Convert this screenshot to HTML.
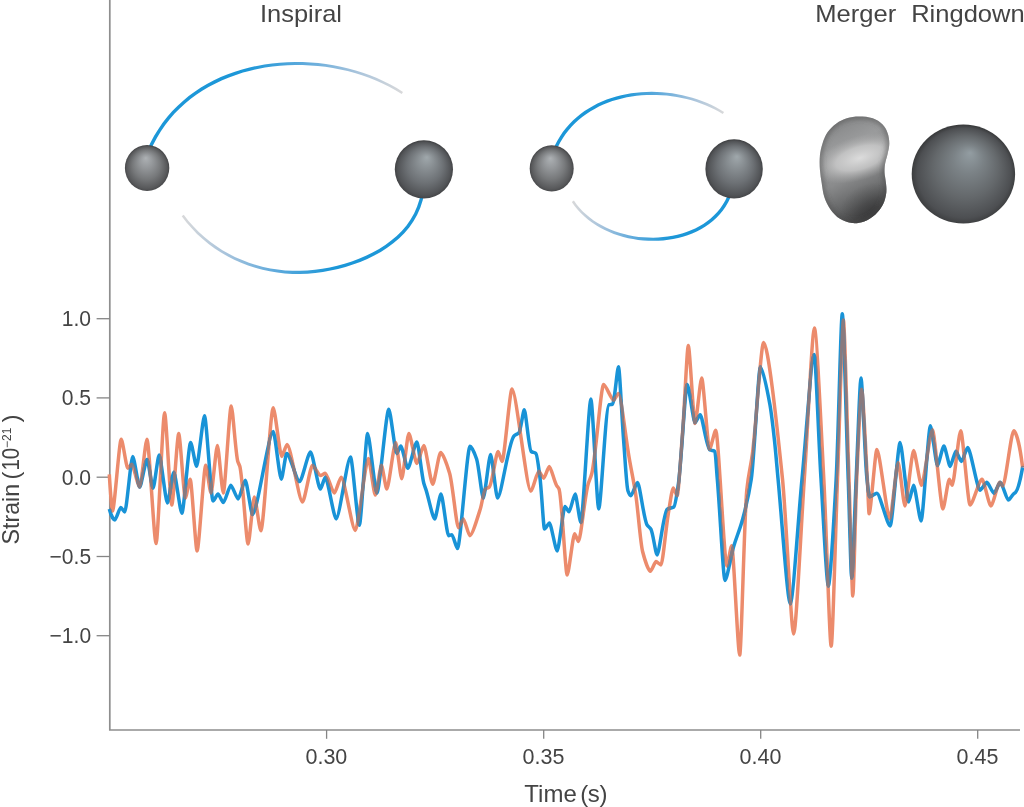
<!DOCTYPE html>
<html lang="en">
<head>
<meta charset="utf-8">
<title>Gravitational-wave strain: inspiral, merger and ringdown</title>
<style>
html,body{margin:0;padding:0;background:#fff;}
body{width:1024px;height:807px;overflow:hidden;}
svg{display:block;}
text{font-family:"Liberation Sans",sans-serif;fill:#444444;}
</style>
</head>
<body>
<svg width="1024" height="807" viewBox="0 0 1024 807">
<defs>
<radialGradient id="gs1" cx="0.5" cy="0.52" r="0.52" fx="0.47" fy="0.28"><stop offset="0" stop-color="#adb1b4"/><stop offset="0.28" stop-color="#95989b"/><stop offset="0.6" stop-color="#77797b"/><stop offset="0.87" stop-color="#58595b"/><stop offset="1" stop-color="#3f4042"/></radialGradient>
<radialGradient id="gs2" cx="0.5" cy="0.52" r="0.52" fx="0.55" fy="0.29"><stop offset="0" stop-color="#a0a8ac"/><stop offset="0.28" stop-color="#888e92"/><stop offset="0.6" stop-color="#6d7175"/><stop offset="0.87" stop-color="#525457"/><stop offset="1" stop-color="#3b3c3e"/></radialGradient>
<radialGradient id="gs3" cx="0.5" cy="0.52" r="0.52" fx="0.565" fy="0.285"><stop offset="0" stop-color="#939da2"/><stop offset="0.28" stop-color="#7b8286"/><stop offset="0.6" stop-color="#64686b"/><stop offset="0.87" stop-color="#4d4f52"/><stop offset="1" stop-color="#353637"/></radialGradient>
<linearGradient id="gt1" gradientUnits="userSpaceOnUse" x1="150" y1="0" x2="403" y2="0"><stop offset="0" stop-color="#1c97d8"/><stop offset="0.38" stop-color="#1c97d8"/><stop offset="0.62" stop-color="#62abdc"/><stop offset="0.82" stop-color="#a9c4dc"/><stop offset="1" stop-color="#d9d9da"/></linearGradient>
<linearGradient id="gt2" gradientUnits="userSpaceOnUse" x1="421" y1="0" x2="182" y2="0"><stop offset="0" stop-color="#1c97d8"/><stop offset="0.38" stop-color="#1c97d8"/><stop offset="0.62" stop-color="#62abdc"/><stop offset="0.82" stop-color="#a9c4dc"/><stop offset="1" stop-color="#d9d9da"/></linearGradient>
<linearGradient id="gt3" gradientUnits="userSpaceOnUse" x1="556" y1="0" x2="724" y2="0"><stop offset="0" stop-color="#1c97d8"/><stop offset="0.38" stop-color="#1c97d8"/><stop offset="0.62" stop-color="#62abdc"/><stop offset="0.82" stop-color="#a9c4dc"/><stop offset="1" stop-color="#d9d9da"/></linearGradient>
<linearGradient id="gt4" gradientUnits="userSpaceOnUse" x1="729" y1="0" x2="572" y2="0"><stop offset="0" stop-color="#1c97d8"/><stop offset="0.38" stop-color="#1c97d8"/><stop offset="0.62" stop-color="#62abdc"/><stop offset="0.82" stop-color="#a9c4dc"/><stop offset="1" stop-color="#d9d9da"/></linearGradient>
<linearGradient id="gblob" x1="0.35" y1="0" x2="0.65" y2="1"><stop offset="0" stop-color="#858687"/><stop offset="0.25" stop-color="#9a9b9c"/><stop offset="0.55" stop-color="#8a8b8c"/><stop offset="0.8" stop-color="#626364"/><stop offset="1" stop-color="#3c3c3d"/></linearGradient>
<radialGradient id="gblobhi" cx="0.5" cy="0.5" r="0.5"><stop offset="0" stop-color="#e0e0e0" stop-opacity="0.95"/><stop offset="0.5" stop-color="#d4d4d4" stop-opacity="0.7"/><stop offset="1" stop-color="#b0b0b0" stop-opacity="0"/></radialGradient>
<radialGradient id="gblobdk" cx="0.5" cy="0.5" r="0.5"><stop offset="0" stop-color="#2c2c2d" stop-opacity="0.7"/><stop offset="0.5" stop-color="#333334" stop-opacity="0.4"/><stop offset="1" stop-color="#444" stop-opacity="0"/></radialGradient>
<clipPath id="cblob"><path d="M859 116.5C863.3 116.5 868.9 116.9 872.8 118.2C876.7 119.5 879.9 121.8 882.4 124.3C884.9 126.8 886.5 129.7 887.6 132.9C888.8 136.1 889.3 139.9 889.3 143.4C889.3 146.9 888.3 150.3 887.6 153.8C886.9 157.3 885.5 161 885 164.2C884.5 167.4 884.5 169.9 884.6 172.8C884.7 175.7 885.5 178.3 885.8 181.5C886.1 184.7 886.8 188.2 886.4 191.9C886 195.7 885 200.2 883.2 204C881.4 207.8 878.6 211.5 875.4 214.4C872.2 217.3 868.1 220 864.2 221.4C860.3 222.8 856 223.5 852 223.1C848 222.7 843.5 221.1 839.9 218.8C836.3 216.5 832.9 212.8 830.3 209.2C827.7 205.6 825.7 201.4 824.3 197.1C822.9 192.8 822.4 187.8 821.7 183.2C821 178.6 820.2 174 819.9 169.4C819.6 164.8 819.5 159.8 819.9 155.5C820.3 151.2 821.2 147.3 822.5 143.4C823.8 139.5 825.4 135.4 827.7 132.1C830 128.8 833.2 125.7 836.4 123.4C839.6 121.1 843 119.4 846.8 118.2C850.6 117 854.7 116.5 859 116.5Z"/></clipPath>
<mask id="mblue" maskUnits="userSpaceOnUse" x="100" y="290" width="924" height="400"><path d="M109.3 509C111.2 516.3 113.7 519.9 114.9 519.9C116.2 519.9 119.5 507.4 120.8 507.4C121.7 507.4 123.9 511.9 124.8 511.9C126.5 511.9 131 456.4 132.7 456.4C134.2 456.4 138.2 487.1 139.7 487.1C141.3 487.1 145.4 459.4 147 459.4C148.3 459.4 151.8 488.1 153.1 488.1C154.4 488.1 157.8 455 159.1 455C160.9 455 165.6 503 167.4 503C168.8 503 172.4 472.3 173.8 472.3C175.6 472.3 180.1 513.3 181.9 513.3C183.8 513.3 188.7 442.5 190.6 442.5C191.9 442.5 195.3 466.3 196.6 466.3C198.3 466.3 202.8 415.8 204.5 415.8C206.4 415.8 211.1 501 213 501C214.1 501 216.9 494.1 218 494.1C219.2 494.1 222.1 502.6 223.3 502.6C225 502.6 229.2 485.2 230.8 485.2C232.4 485.2 236.6 499 238.2 499C239.8 499 243.7 480.2 245.3 480.2C246.9 480.2 250.9 514.4 252.5 514.4C257.1 514.4 268.6 431.6 273.2 431.6C275 431.6 279.5 479.2 281.3 479.2C282.5 479.2 285.5 453.4 286.7 453.4C289.5 453.4 296.8 481.6 299.6 481.6C302 481.6 308.1 451.9 310.5 451.9C312.7 451.9 318.2 489.1 320.4 489.1C321.5 489.1 324.2 477.2 325.3 477.2C327.7 477.2 333.8 518.9 336.2 518.9C339.3 518.9 347.4 457 350.5 457C352.5 457 357.4 525.2 359.4 525.2C361.2 525.2 365.8 433.6 367.6 433.6C369.6 433.6 374.9 493.1 376.9 493.1C379.5 493.1 386.2 409.2 388.8 409.2C390.5 409.2 395 453.4 396.7 453.4C397.6 453.4 399.9 446 400.8 446C402.3 446 406.3 468.3 407.8 468.3C409.8 468.3 414.9 441.9 416.9 441.9C418.4 441.9 421.5 474.6 423.8 483.2C424.5 485.7 425.1 487 425.8 489.1C428.8 498.3 432.7 518.9 434.7 518.9C436.1 518.9 439.6 494.1 441 494.1C442.7 494.1 446.9 535.7 448.6 535.7C449.3 535.7 451.2 534.7 451.9 534.7C453.1 534.7 456.3 548.6 457.5 548.6C460.2 548.6 467.2 446.3 470 446.3C471.5 446.3 474.4 452.6 476.6 459C478.8 465.5 481.8 498 483.3 498C484.9 498 489 454.4 490.6 454.4C492.1 454.4 496 498 497.5 498C501.1 498 508.5 441.6 514 436C515.7 434.3 517.3 434.5 519 432.6C520.8 430.5 523.1 409.8 524.3 409.8C525.8 409.8 528.9 449.8 531.2 451.5C532.7 452.6 534.3 452.2 535.8 453.4C537.2 454.5 538.6 467.2 540 478C541.5 489.5 543.5 529 544.5 529C545.6 529 548.3 523 549.4 523C551.1 523 555.5 551 557.2 551C558.9 551 563.3 506.5 565 506.5C565.9 506.5 568.1 511.8 569 511.8C570.4 511.8 573.8 494 575.2 494C576.4 494 579.6 522.5 580.8 522.5C583 522.5 588.7 399.1 590.9 399.1C592.6 399.1 597 509 598.7 509C601 509 605.6 405.5 609 404.7C610.2 404.4 611.3 404.5 612.5 404.2C614.5 403.7 617.2 366.8 618.5 366.8C619.6 366.8 621.9 418.3 623.6 440C625.1 458.8 626.5 486.8 628 491C628.9 493.6 630.2 495.8 630.8 495.8C632.3 495.8 636 482.4 637.5 482.4C639.6 482.4 643.8 519.5 647 524.8C648.3 527 649.6 527 650.9 529.2C653 532.7 655.7 554.9 657.1 554.9C659.3 554.9 663.8 511.1 667.1 509.2C669.3 507.9 671.6 508.5 673.8 507C675.3 506 676.8 494.5 678.3 484.6C681.3 465 685.2 384.6 687.2 384.6C688.9 384.6 693.3 422.5 695 422.5C696.1 422.5 699.1 414.7 700.2 414.7C702.3 414.7 706.6 448.7 709.8 450C711.4 450.7 713.1 450.3 714.7 451.2C715.6 451.7 716.4 468.9 717.3 479C719.9 508.8 723.3 580.4 725 580.4C726.9 580.4 730.7 556.7 733.5 547C736.5 536.8 739.4 530.9 742.4 520C745.4 509.1 748.3 498.9 751.3 479C754.3 458.7 758.4 366.9 760.4 366.9C762.5 366.9 766.7 387.2 769.9 404.5C771.5 413.1 773 427.1 774.6 441.5C775.7 451.9 776.9 466.4 778 478.4C782.1 521.8 787.6 603.8 790.3 603.8C792.9 603.8 798.1 519.7 802 479C806.1 436.6 811.5 354.6 814.2 354.6C815.7 354.6 818.7 442.1 821 479C823.4 518.7 826.7 586 828.3 586C830 586 833.5 527.5 836.1 480C838.2 442.3 840.9 313.8 842.3 313.8C843.6 313.8 846.2 423.6 848.2 479C849.4 511.9 850.9 578.1 851.7 578.1C852.7 578.1 854.6 511.6 856.1 480C857.7 444.8 859.9 378 861 378C862.3 378 864.9 459.7 866.9 478.4C867.8 486.6 868.9 496.8 869.5 496.8C871.1 496.8 875.3 493.2 876.9 493.2C879.8 493.2 887.3 525.9 890.2 525.9C892.4 525.9 897.9 442.6 900.1 442.6C902 442.6 906.7 502.1 908.6 502.1C909.7 502.1 912.5 485.3 913.6 485.3C915.2 485.3 919.5 520.9 921.1 520.9C923.1 520.9 928.4 425.8 930.4 425.8C931.9 425.8 935.9 465.4 937.4 465.4C938.8 465.4 942.5 446 943.9 446C945.3 446 948.8 466.4 950.2 466.4C951.4 466.4 954.6 451.2 955.8 451.2C957.1 451.2 960.2 461.5 961.5 461.5C962.9 461.5 966.3 447.6 967.7 447.6C970.4 447.6 977.3 490.2 980 490.2C981.5 490.2 985.4 482.3 986.9 482.3C988.4 482.3 992.4 493.2 993.9 493.2C995.3 493.2 999 482.3 1000.4 482.3C1002.1 482.3 1006.6 500.1 1008.3 500.1C1009.4 500.1 1011.8 495.6 1013.5 494C1014.2 493.3 1015 493.1 1015.7 492.2C1018 489.4 1020.3 480.5 1022.6 467.4" fill="none" stroke="#fff" stroke-width="3.5" stroke-linejoin="round" stroke-linecap="round"/></mask>
<filter id="fblur" x="-20%" y="-20%" width="140%" height="140%"><feGaussianBlur stdDeviation="2.5"/></filter>
</defs>
<rect width="1024" height="807" fill="#fff"/>
<g stroke="#8e8e8e" stroke-width="1.7" fill="none">
<path d="M109.8 0V730H1020"/>
</g>
<g stroke="#858585" stroke-width="1.3" fill="none">
<path d="M96.6 318.7H109.8"/>
<path d="M96.6 397.9H109.8"/>
<path d="M96.6 477.2H109.8"/>
<path d="M96.6 556.5H109.8"/>
<path d="M96.6 635.7H109.8"/>
<path d="M326.6 730V738.8"/>
<path d="M543.7 730V738.8"/>
<path d="M760.7 730V738.8"/>
<path d="M977.7 730V738.8"/>
</g>
<g font-size="21.5">
<text x="61.8" y="326.2" textLength="29.3" lengthAdjust="spacingAndGlyphs">1.0</text>
<text x="61.8" y="405.4" textLength="29.3" lengthAdjust="spacingAndGlyphs">0.5</text>
<text x="61.8" y="484.7" textLength="29.3" lengthAdjust="spacingAndGlyphs">0.0</text>
<text x="49.6" y="564" textLength="41.5" lengthAdjust="spacingAndGlyphs">−0.5</text>
<text x="49.6" y="643.2" textLength="41.5" lengthAdjust="spacingAndGlyphs">−1.0</text>
<text x="305.5" y="764" textLength="41.8" lengthAdjust="spacingAndGlyphs">0.30</text>
<text x="522.6" y="764" textLength="41.8" lengthAdjust="spacingAndGlyphs">0.35</text>
<text x="739.6" y="764" textLength="41.8" lengthAdjust="spacingAndGlyphs">0.40</text>
<text x="956.6" y="764" textLength="41.8" lengthAdjust="spacingAndGlyphs">0.45</text>
</g>
<text x="524.3" y="802.2" font-size="24">Time <tspan dx="-3.2" letter-spacing="-0.4">(s)</tspan></text>
<g transform="translate(19.2 544) rotate(-90)" font-size="24"><text x="-0.4" y="0" textLength="60.5" lengthAdjust="spacingAndGlyphs">Strain</text><text x="64.6" y="0">(</text><text x="73.4" y="0" textLength="22.8" lengthAdjust="spacingAndGlyphs">10</text><text x="96" y="-8" font-size="12">−21</text><text x="121.6" y="0">)</text></g>
<text x="260" y="22" font-size="24" textLength="82" lengthAdjust="spacingAndGlyphs">Inspiral</text>
<text x="815.3" y="22" font-size="24" textLength="81" lengthAdjust="spacingAndGlyphs">Merger</text>
<text x="911.2" y="22" font-size="24" textLength="113.5" lengthAdjust="spacingAndGlyphs">Ringdown</text>
<g stroke="none">
<path d="M150.1 151.8L153.4 144.6L157 137.8L160.9 131.3L165.2 125.1L169.7 119.2L174.6 113.6L179.7 108.4L185.1 103.4L190.8 98.8L196.6 94.5L202.7 90.5L209 86.8L215.5 83.4L222.2 80.2L229 77.4L235.9 74.9L243 72.6L250.3 70.7L257.6 69L265 67.6L272.4 66.5L280 65.7L287.5 65.2L295.1 65L302.7 65L310.3 65.4L317.9 66L325.4 66.8L332.9 68L340.3 69.4L347.7 71.1L354.9 73.1L362 75.3L369.1 77.8L375.9 80.5L382.6 83.5L389.2 86.8L395.5 90.3L401.7 94L403 91.9L396.8 88.1L390.4 84.5L383.7 81.2L376.9 78.1L370 75.3L362.9 72.7L355.7 70.4L348.3 68.4L340.9 66.7L333.4 65.2L325.8 64L318.2 63.1L310.5 62.4L302.8 62.1L295.1 62L287.4 62.2L279.7 62.7L272 63.4L264.5 64.5L256.9 65.9L249.5 67.5L242.1 69.5L234.9 71.7L227.8 74.3L220.8 77.1L214 80.3L207.4 83.8L200.9 87.6L194.7 91.7L188.7 96.1L182.9 100.9L177.4 105.9L172.1 111.3L167.1 117L162.4 123.1L158.1 129.4L154 136.1L150.3 143.1L147 150.5Z" fill="url(#gt1)"/>
<path d="M421.1 191.5L419.5 199.2L417.1 206.5L414.2 213.2L410.6 219.5L406.5 225.4L401.8 230.9L396.7 235.9L391.2 240.6L385.3 245L379.1 248.9L372.6 252.6L365.9 255.8L358.9 258.8L351.8 261.4L344.6 263.7L337.2 265.7L329.8 267.4L322.4 268.8L314.9 269.8L307.4 270.5L300 270.8L292.5 270.8L285.1 270.4L277.7 269.6L270.4 268.4L263.2 266.9L256.1 265L249 262.7L242.2 260.1L235.4 257.2L228.8 253.8L222.4 250.2L216.2 246.1L210.2 241.8L204.4 237L198.8 232L193.5 226.6L188.5 220.9L183.7 214.8L181.7 216.3L186.5 222.5L191.7 228.3L197 233.9L202.7 239.1L208.6 243.9L214.7 248.4L221 252.5L227.5 256.3L234.2 259.7L241.1 262.8L248.1 265.5L255.2 267.8L262.5 269.8L269.8 271.3L277.3 272.6L284.8 273.4L292.4 273.9L300 274L307.6 273.7L315.3 273L322.9 272L330.5 270.6L338 269L345.5 267L352.9 264.6L360.2 262L367.3 258.9L374.2 255.6L380.8 251.9L387.2 247.8L393.3 243.3L399 238.4L404.3 233.2L409.2 227.5L413.5 221.3L417.2 214.7L420.3 207.7L422.8 200.1L424.4 192.1Z" fill="url(#gt2)"/>
<path d="M555.6 152L557.8 147.2L560.2 142.6L562.8 138.3L565.6 134.1L568.6 130.2L571.8 126.5L575.2 123.1L578.8 119.8L582.5 116.8L586.4 113.9L590.5 111.3L594.6 108.9L598.9 106.6L603.3 104.6L607.8 102.7L612.4 101.1L617.1 99.7L621.9 98.4L626.8 97.3L631.7 96.5L636.6 95.8L641.6 95.3L646.6 95L651.7 94.9L656.7 94.9L661.8 95.2L666.8 95.6L671.8 96.2L676.8 97L681.8 97.9L686.7 99.1L691.5 100.3L696.2 101.8L700.9 103.4L705.5 105.2L710 107.2L714.4 109.3L718.6 111.6L722.7 114L724.1 111.9L719.9 109.4L715.5 107L711.1 104.8L706.5 102.8L701.9 100.9L697.1 99.2L692.3 97.7L687.3 96.4L682.4 95.2L677.3 94.2L672.2 93.3L667.1 92.7L662 92.2L656.8 91.9L651.7 91.8L646.5 91.9L641.4 92.2L636.3 92.7L631.2 93.3L626.2 94.2L621.2 95.2L616.3 96.5L611.4 98L606.7 99.6L602 101.5L597.4 103.6L593 105.9L588.7 108.4L584.5 111.1L580.5 114.1L576.6 117.2L572.9 120.6L569.3 124.2L566 128.1L562.8 132.1L559.9 136.4L557.2 140.9L554.7 145.7L552.5 150.7Z" fill="url(#gt3)"/>
<path d="M729.3 191.5L727.4 196.1L725.3 200.5L722.9 204.6L720.2 208.4L717.3 212L714.1 215.3L710.7 218.4L707.1 221.2L703.3 223.9L699.3 226.2L695.2 228.4L690.9 230.3L686.5 232L682 233.4L677.3 234.7L672.6 235.7L667.8 236.5L663 237.1L658.1 237.5L653.2 237.7L648.3 237.6L643.4 237.3L638.5 236.9L633.7 236.2L628.8 235.2L624.1 234.1L619.4 232.8L614.8 231.2L610.3 229.5L605.9 227.5L601.7 225.3L597.6 223L593.6 220.4L589.8 217.6L586.2 214.6L582.8 211.4L579.6 208L576.6 204.4L573.9 200.6L571.8 201.9L574.6 205.9L577.7 209.7L581 213.2L584.5 216.5L588.2 219.7L592 222.6L596.1 225.3L600.3 227.8L604.7 230L609.2 232.1L613.8 233.9L618.5 235.6L623.3 237L628.2 238.2L633.1 239.1L638.1 239.9L643.2 240.4L648.2 240.8L653.3 240.8L658.3 240.7L663.3 240.4L668.3 239.8L673.2 239L678.1 237.9L682.9 236.7L687.6 235.2L692.2 233.4L696.7 231.4L701 229.2L705.1 226.7L709.1 224L712.9 221L716.5 217.7L719.8 214.2L722.9 210.5L725.7 206.4L728.3 202.1L730.5 197.5L732.5 192.7Z" fill="url(#gt4)"/>
</g>
<ellipse cx="147.1" cy="168" rx="22.2" ry="23" fill="url(#gs1)"/>
<circle cx="423.9" cy="169.3" r="29.1" fill="url(#gs2)"/>
<ellipse cx="551.7" cy="168.4" rx="22" ry="23.2" fill="url(#gs1)"/>
<ellipse cx="734.1" cy="168.9" rx="28.7" ry="29.7" fill="url(#gs2)"/>
<ellipse cx="963.4" cy="174" rx="51.7" ry="49.6" fill="url(#gs3)"/>
<path d="M859 116.5C863.3 116.5 868.9 116.9 872.8 118.2C876.7 119.5 879.9 121.8 882.4 124.3C884.9 126.8 886.5 129.7 887.6 132.9C888.8 136.1 889.3 139.9 889.3 143.4C889.3 146.9 888.3 150.3 887.6 153.8C886.9 157.3 885.5 161 885 164.2C884.5 167.4 884.5 169.9 884.6 172.8C884.7 175.7 885.5 178.3 885.8 181.5C886.1 184.7 886.8 188.2 886.4 191.9C886 195.7 885 200.2 883.2 204C881.4 207.8 878.6 211.5 875.4 214.4C872.2 217.3 868.1 220 864.2 221.4C860.3 222.8 856 223.5 852 223.1C848 222.7 843.5 221.1 839.9 218.8C836.3 216.5 832.9 212.8 830.3 209.2C827.7 205.6 825.7 201.4 824.3 197.1C822.9 192.8 822.4 187.8 821.7 183.2C821 178.6 820.2 174 819.9 169.4C819.6 164.8 819.5 159.8 819.9 155.5C820.3 151.2 821.2 147.3 822.5 143.4C823.8 139.5 825.4 135.4 827.7 132.1C830 128.8 833.2 125.7 836.4 123.4C839.6 121.1 843 119.4 846.8 118.2C850.6 117 854.7 116.5 859 116.5Z" fill="url(#gblob)"/>
<g clip-path="url(#cblob)"><ellipse cx="879" cy="216" rx="40" ry="34" fill="url(#gblobdk)"/><ellipse cx="0" cy="0" rx="50" ry="22" fill="url(#gblobhi)" transform="translate(860 158) rotate(-17)"/><path d="M859 116.5C863.3 116.5 868.9 116.9 872.8 118.2C876.7 119.5 879.9 121.8 882.4 124.3C884.9 126.8 886.5 129.7 887.6 132.9C888.8 136.1 889.3 139.9 889.3 143.4C889.3 146.9 888.3 150.3 887.6 153.8C886.9 157.3 885.5 161 885 164.2C884.5 167.4 884.5 169.9 884.6 172.8C884.7 175.7 885.5 178.3 885.8 181.5C886.1 184.7 886.8 188.2 886.4 191.9C886 195.7 885 200.2 883.2 204C881.4 207.8 878.6 211.5 875.4 214.4C872.2 217.3 868.1 220 864.2 221.4C860.3 222.8 856 223.5 852 223.1C848 222.7 843.5 221.1 839.9 218.8C836.3 216.5 832.9 212.8 830.3 209.2C827.7 205.6 825.7 201.4 824.3 197.1C822.9 192.8 822.4 187.8 821.7 183.2C821 178.6 820.2 174 819.9 169.4C819.6 164.8 819.5 159.8 819.9 155.5C820.3 151.2 821.2 147.3 822.5 143.4C823.8 139.5 825.4 135.4 827.7 132.1C830 128.8 833.2 125.7 836.4 123.4C839.6 121.1 843 119.4 846.8 118.2C850.6 117 854.7 116.5 859 116.5Z" fill="none" stroke="#4a4a4b" stroke-opacity="0.55" stroke-width="5" filter="url(#fblur)"/></g>
<g fill="none" stroke-width="3.5" stroke-linejoin="round" stroke-linecap="butt">
<path d="M109.3 474.3C110.4 492.2 111.8 511 112.5 511C114.4 511 119.3 439.2 121.2 439.2C122.7 439.2 126.3 468.3 127.8 468.3C128.7 468.3 130.8 464.3 131.7 464.3C133.5 464.3 137.9 487.1 139.7 487.1C141.3 487.1 145.4 439.2 147 439.2C149 439.2 154.1 543.6 156.1 543.6C158 543.6 162.7 412.8 164.6 412.8C166.2 412.8 170.2 505 171.8 505C173.3 505 177.2 433.6 178.7 433.6C180.2 433.6 183.8 498 185.3 498C186.4 498 189.1 479.2 190.2 479.2C191.7 479.2 195.6 551 197.1 551C199 551 203.8 465.3 205.7 465.3C206.9 465.3 209.8 493.1 211 493.1C212.4 493.1 216 445.5 217.4 445.5C218.7 445.5 222 493.1 223.3 493.1C225 493.1 229.5 405.9 231.2 405.9C232.7 405.9 235.6 453.8 237.8 461.4C238.5 463.7 239.1 464 239.8 466.3C242.6 475.9 246.3 544 248.1 544C249.5 544 252.9 497.1 254.3 497.1C255.8 497.1 259.4 530.8 260.9 530.8C263.6 530.8 270.5 407.8 273.2 407.8C275.1 407.8 279.8 456.4 281.7 456.4C282.9 456.4 285.9 444.5 287.1 444.5C290.5 444.5 299.1 502 302.5 502C304.7 502 310.3 465.3 312.5 465.3C314.2 465.3 318.7 475.6 320.4 475.6C321.5 475.6 324.2 473.3 325.3 473.3C327.3 473.3 332.3 493.1 334.3 493.1C335.8 493.1 339.7 477.2 341.2 477.2C344.3 477.2 352.2 530.5 355.3 530.5C358.2 530.5 365.5 458.4 368.4 458.4C369.9 458.4 373.8 495.1 375.3 495.1C376.6 495.1 380.1 465.3 381.4 465.3C382.6 465.3 385.6 489.1 386.8 489.1C388.8 489.1 393.7 442.5 395.7 442.5C397 442.5 400.4 478.7 401.7 478.7C403.3 478.7 407.2 433.6 408.8 433.6C410.6 433.6 415.1 463.4 416.9 463.4C418.4 463.4 422.3 445.5 423.8 445.5C425.8 445.5 430.7 484.2 432.7 484.2C434.4 484.2 438.9 452.5 440.6 452.5C442.6 452.5 446.6 463.2 449.6 473.3C452.6 483.3 456.5 527.8 458.5 527.8C459.6 527.8 462.3 518.9 463.4 518.9C464.8 518.9 468.4 535.7 469.8 535.7C472.1 535.7 476.8 520.2 480.3 509C482 503.7 483.6 490.6 485.3 489.1C486.6 488 487.9 488.2 489.2 487.1C492.2 484.6 496.1 451.5 498.1 451.5C499 451.5 501.2 461.4 502.1 461.4C504.3 461.4 509.8 389 512 389C516.1 389 526.7 491.1 530.8 491.1C532.6 491.1 537 471.3 538.8 471.3C539.9 471.3 542.6 478.2 543.7 478.2C544.9 478.2 548.1 466.5 549.3 466.5C550.9 466.5 554.2 481.4 556.7 485.7C557.5 487 558.2 487.3 559 489C561.7 495 565.4 575 567.2 575C568.8 575 573 533.7 574.6 533.7C575.4 533.7 577.6 541.5 578.4 541.5C580.5 541.5 584.8 496.5 588 484.6C589.3 479.9 590.5 478.5 591.8 473.5C595.7 458.1 601 384.6 603.6 384.6C605.8 384.6 611.4 400.2 613.6 400.2C614.7 400.2 617.4 393.5 618.5 393.5C620.9 393.5 625.6 437.3 629.2 458C631.4 471 633.7 480.8 635.9 495.8C638.1 510.8 640.4 542.7 642.6 551.5C645.2 561.7 648.7 571.2 650.4 571.2C651.6 571.2 654.8 561.6 656 561.6C657.1 561.6 659.9 565 661 565C662.6 565 665.9 528.1 668.3 513.6C669.9 503.9 672.1 488 673.2 488C674.1 488 676.3 495.8 677.2 495.8C678.4 495.8 680.9 453.9 682.8 429C684.6 404.5 687.1 345.6 688.3 345.6C689.8 345.6 693.5 423.6 695 423.6C696.5 423.6 700.2 378 701.7 378C703.4 378 707.8 449.3 709.5 449.3C710.9 449.3 714.4 430.3 715.8 430.3C718.2 430.3 724.4 565.9 726.8 565.9C727.9 565.9 730.6 545.8 731.7 545.8C733.5 545.8 737.9 655.1 739.7 655.1C741.3 655.1 744.4 513.4 746.8 490C748.7 471.6 750.5 468.2 752.4 453.9C756.1 425.4 761.1 342.4 763.6 342.4C767.8 342.4 776.2 417.5 782.5 479C786.2 515.4 791.2 633.9 793.7 633.9C796 633.9 800.8 531.2 804.3 479C807.7 429.2 812.2 327.9 814.4 327.9C816.5 327.9 820.7 419.7 823.8 479C826.3 525.6 829.6 646.2 831.2 646.2C832.6 646.2 835.4 535.2 837.5 479C839.5 426.4 842.1 320 843.4 320C844.6 320 847.1 423.7 849 479C850.3 516.5 852 596 852.8 596C853.7 596 855.4 508.5 856.7 479C858.4 441.2 860.6 389.2 861.7 389.2C862.9 389.2 865.4 444.9 867.3 478.4C867.9 489.2 868.7 513.8 869.1 513.8C870.8 513.8 875.2 449.6 876.9 449.6C879.7 449.6 887 519 889.8 519C891.6 519 896.3 462.5 898.1 462.5C899.6 462.5 903.5 506 905 506C906.9 506 911.7 450.6 913.6 450.6C915.3 450.6 919.8 485.3 921.5 485.3C923.9 485.3 930 429.7 932.4 429.7C934.7 429.7 940.6 509 942.9 509C944.3 509 947.9 479.3 949.3 479.3C949.9 479.3 951.6 485.3 952.2 485.3C954.1 485.3 958.8 430.7 960.7 430.7C962.7 430.7 968 505 970 505C972.6 505 979.4 479.3 982 479.3C984 479.3 988.9 506 990.9 506C992.9 506 997.8 482.3 999.8 482.3C1000.5 482.3 1002.1 486.2 1002.8 486.2C1005.2 486.2 1011.3 430.7 1013.7 430.7C1015.7 430.7 1019.6 442.9 1022.6 467.4" stroke="#ec8b6c"/>
<path d="M109.3 509C111.2 516.3 113.7 519.9 114.9 519.9C116.2 519.9 119.5 507.4 120.8 507.4C121.7 507.4 123.9 511.9 124.8 511.9C126.5 511.9 131 456.4 132.7 456.4C134.2 456.4 138.2 487.1 139.7 487.1C141.3 487.1 145.4 459.4 147 459.4C148.3 459.4 151.8 488.1 153.1 488.1C154.4 488.1 157.8 455 159.1 455C160.9 455 165.6 503 167.4 503C168.8 503 172.4 472.3 173.8 472.3C175.6 472.3 180.1 513.3 181.9 513.3C183.8 513.3 188.7 442.5 190.6 442.5C191.9 442.5 195.3 466.3 196.6 466.3C198.3 466.3 202.8 415.8 204.5 415.8C206.4 415.8 211.1 501 213 501C214.1 501 216.9 494.1 218 494.1C219.2 494.1 222.1 502.6 223.3 502.6C225 502.6 229.2 485.2 230.8 485.2C232.4 485.2 236.6 499 238.2 499C239.8 499 243.7 480.2 245.3 480.2C246.9 480.2 250.9 514.4 252.5 514.4C257.1 514.4 268.6 431.6 273.2 431.6C275 431.6 279.5 479.2 281.3 479.2C282.5 479.2 285.5 453.4 286.7 453.4C289.5 453.4 296.8 481.6 299.6 481.6C302 481.6 308.1 451.9 310.5 451.9C312.7 451.9 318.2 489.1 320.4 489.1C321.5 489.1 324.2 477.2 325.3 477.2C327.7 477.2 333.8 518.9 336.2 518.9C339.3 518.9 347.4 457 350.5 457C352.5 457 357.4 525.2 359.4 525.2C361.2 525.2 365.8 433.6 367.6 433.6C369.6 433.6 374.9 493.1 376.9 493.1C379.5 493.1 386.2 409.2 388.8 409.2C390.5 409.2 395 453.4 396.7 453.4C397.6 453.4 399.9 446 400.8 446C402.3 446 406.3 468.3 407.8 468.3C409.8 468.3 414.9 441.9 416.9 441.9C418.4 441.9 421.5 474.6 423.8 483.2C424.5 485.7 425.1 487 425.8 489.1C428.8 498.3 432.7 518.9 434.7 518.9C436.1 518.9 439.6 494.1 441 494.1C442.7 494.1 446.9 535.7 448.6 535.7C449.3 535.7 451.2 534.7 451.9 534.7C453.1 534.7 456.3 548.6 457.5 548.6C460.2 548.6 467.2 446.3 470 446.3C471.5 446.3 474.4 452.6 476.6 459C478.8 465.5 481.8 498 483.3 498C484.9 498 489 454.4 490.6 454.4C492.1 454.4 496 498 497.5 498C501.1 498 508.5 441.6 514 436C515.7 434.3 517.3 434.5 519 432.6C520.8 430.5 523.1 409.8 524.3 409.8C525.8 409.8 528.9 449.8 531.2 451.5C532.7 452.6 534.3 452.2 535.8 453.4C537.2 454.5 538.6 467.2 540 478C541.5 489.5 543.5 529 544.5 529C545.6 529 548.3 523 549.4 523C551.1 523 555.5 551 557.2 551C558.9 551 563.3 506.5 565 506.5C565.9 506.5 568.1 511.8 569 511.8C570.4 511.8 573.8 494 575.2 494C576.4 494 579.6 522.5 580.8 522.5C583 522.5 588.7 399.1 590.9 399.1C592.6 399.1 597 509 598.7 509C601 509 605.6 405.5 609 404.7C610.2 404.4 611.3 404.5 612.5 404.2C614.5 403.7 617.2 366.8 618.5 366.8C619.6 366.8 621.9 418.3 623.6 440C625.1 458.8 626.5 486.8 628 491C628.9 493.6 630.2 495.8 630.8 495.8C632.3 495.8 636 482.4 637.5 482.4C639.6 482.4 643.8 519.5 647 524.8C648.3 527 649.6 527 650.9 529.2C653 532.7 655.7 554.9 657.1 554.9C659.3 554.9 663.8 511.1 667.1 509.2C669.3 507.9 671.6 508.5 673.8 507C675.3 506 676.8 494.5 678.3 484.6C681.3 465 685.2 384.6 687.2 384.6C688.9 384.6 693.3 422.5 695 422.5C696.1 422.5 699.1 414.7 700.2 414.7C702.3 414.7 706.6 448.7 709.8 450C711.4 450.7 713.1 450.3 714.7 451.2C715.6 451.7 716.4 468.9 717.3 479C719.9 508.8 723.3 580.4 725 580.4C726.9 580.4 730.7 556.7 733.5 547C736.5 536.8 739.4 530.9 742.4 520C745.4 509.1 748.3 498.9 751.3 479C754.3 458.7 758.4 366.9 760.4 366.9C762.5 366.9 766.7 387.2 769.9 404.5C771.5 413.1 773 427.1 774.6 441.5C775.7 451.9 776.9 466.4 778 478.4C782.1 521.8 787.6 603.8 790.3 603.8C792.9 603.8 798.1 519.7 802 479C806.1 436.6 811.5 354.6 814.2 354.6C815.7 354.6 818.7 442.1 821 479C823.4 518.7 826.7 586 828.3 586C830 586 833.5 527.5 836.1 480C838.2 442.3 840.9 313.8 842.3 313.8C843.6 313.8 846.2 423.6 848.2 479C849.4 511.9 850.9 578.1 851.7 578.1C852.7 578.1 854.6 511.6 856.1 480C857.7 444.8 859.9 378 861 378C862.3 378 864.9 459.7 866.9 478.4C867.8 486.6 868.9 496.8 869.5 496.8C871.1 496.8 875.3 493.2 876.9 493.2C879.8 493.2 887.3 525.9 890.2 525.9C892.4 525.9 897.9 442.6 900.1 442.6C902 442.6 906.7 502.1 908.6 502.1C909.7 502.1 912.5 485.3 913.6 485.3C915.2 485.3 919.5 520.9 921.1 520.9C923.1 520.9 928.4 425.8 930.4 425.8C931.9 425.8 935.9 465.4 937.4 465.4C938.8 465.4 942.5 446 943.9 446C945.3 446 948.8 466.4 950.2 466.4C951.4 466.4 954.6 451.2 955.8 451.2C957.1 451.2 960.2 461.5 961.5 461.5C962.9 461.5 966.3 447.6 967.7 447.6C970.4 447.6 977.3 490.2 980 490.2C981.5 490.2 985.4 482.3 986.9 482.3C988.4 482.3 992.4 493.2 993.9 493.2C995.3 493.2 999 482.3 1000.4 482.3C1002.1 482.3 1006.6 500.1 1008.3 500.1C1009.4 500.1 1011.8 495.6 1013.5 494C1014.2 493.3 1015 493.1 1015.7 492.2C1018 489.4 1020.3 480.5 1022.6 467.4" stroke="#1893d7"/>
<path d="M109.3 474.3C110.4 492.2 111.8 511 112.5 511C114.4 511 119.3 439.2 121.2 439.2C122.7 439.2 126.3 468.3 127.8 468.3C128.7 468.3 130.8 464.3 131.7 464.3C133.5 464.3 137.9 487.1 139.7 487.1C141.3 487.1 145.4 439.2 147 439.2C149 439.2 154.1 543.6 156.1 543.6C158 543.6 162.7 412.8 164.6 412.8C166.2 412.8 170.2 505 171.8 505C173.3 505 177.2 433.6 178.7 433.6C180.2 433.6 183.8 498 185.3 498C186.4 498 189.1 479.2 190.2 479.2C191.7 479.2 195.6 551 197.1 551C199 551 203.8 465.3 205.7 465.3C206.9 465.3 209.8 493.1 211 493.1C212.4 493.1 216 445.5 217.4 445.5C218.7 445.5 222 493.1 223.3 493.1C225 493.1 229.5 405.9 231.2 405.9C232.7 405.9 235.6 453.8 237.8 461.4C238.5 463.7 239.1 464 239.8 466.3C242.6 475.9 246.3 544 248.1 544C249.5 544 252.9 497.1 254.3 497.1C255.8 497.1 259.4 530.8 260.9 530.8C263.6 530.8 270.5 407.8 273.2 407.8C275.1 407.8 279.8 456.4 281.7 456.4C282.9 456.4 285.9 444.5 287.1 444.5C290.5 444.5 299.1 502 302.5 502C304.7 502 310.3 465.3 312.5 465.3C314.2 465.3 318.7 475.6 320.4 475.6C321.5 475.6 324.2 473.3 325.3 473.3C327.3 473.3 332.3 493.1 334.3 493.1C335.8 493.1 339.7 477.2 341.2 477.2C344.3 477.2 352.2 530.5 355.3 530.5C358.2 530.5 365.5 458.4 368.4 458.4C369.9 458.4 373.8 495.1 375.3 495.1C376.6 495.1 380.1 465.3 381.4 465.3C382.6 465.3 385.6 489.1 386.8 489.1C388.8 489.1 393.7 442.5 395.7 442.5C397 442.5 400.4 478.7 401.7 478.7C403.3 478.7 407.2 433.6 408.8 433.6C410.6 433.6 415.1 463.4 416.9 463.4C418.4 463.4 422.3 445.5 423.8 445.5C425.8 445.5 430.7 484.2 432.7 484.2C434.4 484.2 438.9 452.5 440.6 452.5C442.6 452.5 446.6 463.2 449.6 473.3C452.6 483.3 456.5 527.8 458.5 527.8C459.6 527.8 462.3 518.9 463.4 518.9C464.8 518.9 468.4 535.7 469.8 535.7C472.1 535.7 476.8 520.2 480.3 509C482 503.7 483.6 490.6 485.3 489.1C486.6 488 487.9 488.2 489.2 487.1C492.2 484.6 496.1 451.5 498.1 451.5C499 451.5 501.2 461.4 502.1 461.4C504.3 461.4 509.8 389 512 389C516.1 389 526.7 491.1 530.8 491.1C532.6 491.1 537 471.3 538.8 471.3C539.9 471.3 542.6 478.2 543.7 478.2C544.9 478.2 548.1 466.5 549.3 466.5C550.9 466.5 554.2 481.4 556.7 485.7C557.5 487 558.2 487.3 559 489C561.7 495 565.4 575 567.2 575C568.8 575 573 533.7 574.6 533.7C575.4 533.7 577.6 541.5 578.4 541.5C580.5 541.5 584.8 496.5 588 484.6C589.3 479.9 590.5 478.5 591.8 473.5C595.7 458.1 601 384.6 603.6 384.6C605.8 384.6 611.4 400.2 613.6 400.2C614.7 400.2 617.4 393.5 618.5 393.5C620.9 393.5 625.6 437.3 629.2 458C631.4 471 633.7 480.8 635.9 495.8C638.1 510.8 640.4 542.7 642.6 551.5C645.2 561.7 648.7 571.2 650.4 571.2C651.6 571.2 654.8 561.6 656 561.6C657.1 561.6 659.9 565 661 565C662.6 565 665.9 528.1 668.3 513.6C669.9 503.9 672.1 488 673.2 488C674.1 488 676.3 495.8 677.2 495.8C678.4 495.8 680.9 453.9 682.8 429C684.6 404.5 687.1 345.6 688.3 345.6C689.8 345.6 693.5 423.6 695 423.6C696.5 423.6 700.2 378 701.7 378C703.4 378 707.8 449.3 709.5 449.3C710.9 449.3 714.4 430.3 715.8 430.3C718.2 430.3 724.4 565.9 726.8 565.9C727.9 565.9 730.6 545.8 731.7 545.8C733.5 545.8 737.9 655.1 739.7 655.1C741.3 655.1 744.4 513.4 746.8 490C748.7 471.6 750.5 468.2 752.4 453.9C756.1 425.4 761.1 342.4 763.6 342.4C767.8 342.4 776.2 417.5 782.5 479C786.2 515.4 791.2 633.9 793.7 633.9C796 633.9 800.8 531.2 804.3 479C807.7 429.2 812.2 327.9 814.4 327.9C816.5 327.9 820.7 419.7 823.8 479C826.3 525.6 829.6 646.2 831.2 646.2C832.6 646.2 835.4 535.2 837.5 479C839.5 426.4 842.1 320 843.4 320C844.6 320 847.1 423.7 849 479C850.3 516.5 852 596 852.8 596C853.7 596 855.4 508.5 856.7 479C858.4 441.2 860.6 389.2 861.7 389.2C862.9 389.2 865.4 444.9 867.3 478.4C867.9 489.2 868.7 513.8 869.1 513.8C870.8 513.8 875.2 449.6 876.9 449.6C879.7 449.6 887 519 889.8 519C891.6 519 896.3 462.5 898.1 462.5C899.6 462.5 903.5 506 905 506C906.9 506 911.7 450.6 913.6 450.6C915.3 450.6 919.8 485.3 921.5 485.3C923.9 485.3 930 429.7 932.4 429.7C934.7 429.7 940.6 509 942.9 509C944.3 509 947.9 479.3 949.3 479.3C949.9 479.3 951.6 485.3 952.2 485.3C954.1 485.3 958.8 430.7 960.7 430.7C962.7 430.7 968 505 970 505C972.6 505 979.4 479.3 982 479.3C984 479.3 988.9 506 990.9 506C992.9 506 997.8 482.3 999.8 482.3C1000.5 482.3 1002.1 486.2 1002.8 486.2C1005.2 486.2 1011.3 430.7 1013.7 430.7C1015.7 430.7 1019.6 442.9 1022.6 467.4" stroke="#8a7a7e" mask="url(#mblue)"/>
</g>
</svg>
</body>
</html>
